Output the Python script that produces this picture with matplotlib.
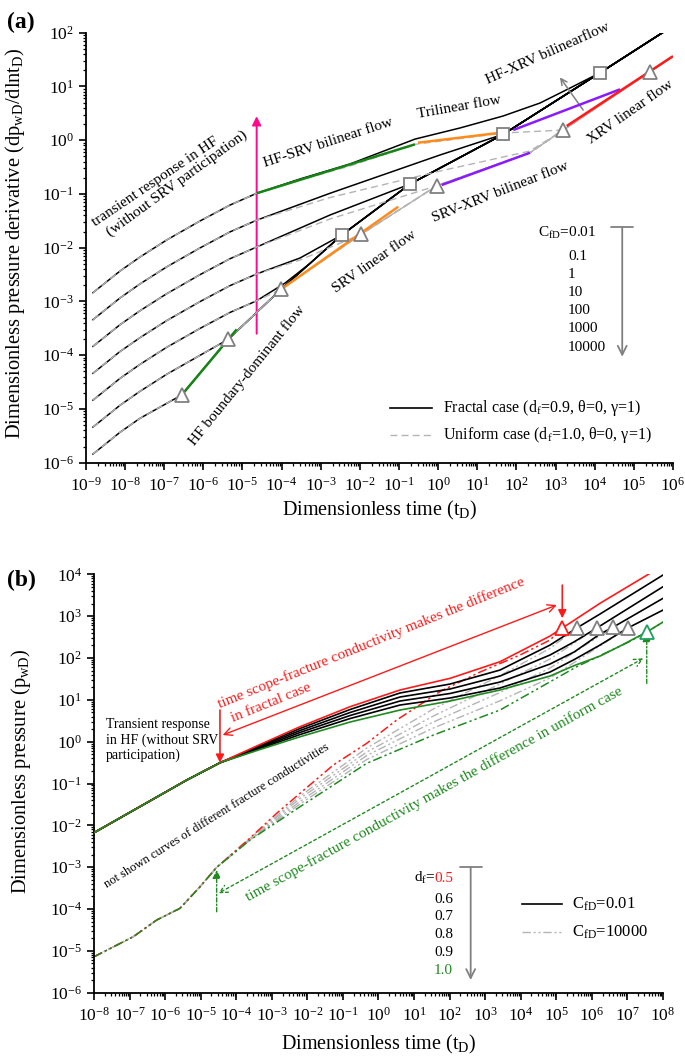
import matplotlib
matplotlib.use("Agg")
import matplotlib.pyplot as plt
import numpy as np
from matplotlib.ticker import FixedLocator, LogLocator, LogFormatterSciNotation, NullFormatter

plt.rcParams.update({
    "font.family": ["Liberation Serif", "DejaVu Serif"],
    "mathtext.fontset": "custom",
    "mathtext.rm": "Liberation Serif",
    "mathtext.it": "Liberation Serif:italic",
    "mathtext.bf": "Liberation Serif:bold",
    "axes.unicode_minus": False,
})

# ------------------------------------------------------------------
# Panel (a): pressure derivative, fractal (solid) vs uniform (dashed)
# CfD = 0.01, 0.1, 1, 10, 100, 1000, 10000  (top -> bottom)
# ------------------------------------------------------------------
a_early_t = [1.51e-9, 7.40e-9, 2.40e-8, 1.15e-7, 8.18e-7, 4.79e-6, 2.30e-5]
a_c1_early = [1.46e-3, 3.68e-3, 6.71e-3, 1.39e-2, 3.14e-2, 6.22e-2, 0.103]
a_c2_early = [4.59e-4, 1.16e-3, 2.12e-3, 4.39e-3, 9.91e-3, 1.97e-2, 3.25e-2]
a_c3_early = [1.46e-4, 3.69e-4, 6.73e-4, 1.39e-3, 3.15e-3, 6.24e-3, 1.03e-2]
a_c4_early = [4.61e-5, 1.17e-4, 2.12e-4, 4.40e-4, 9.93e-4, 1.97e-3, 3.25e-3]
a_c5_early = [1.46e-5, 3.70e-5, 6.75e-5, 1.40e-4, 3.15e-4, 6.25e-4, 1.03e-3]
a_c6_early = [4.61e-6, 1.17e-5, 2.13e-5, 4.41e-5, 9.95e-5]
a_c7_early = [1.45e-6, 3.68e-6, 6.70e-6]

# shared late path of the fractal curves (T1, T2, T3, S1, S2, S3, S4, end)
a_frac_path_t = [2.79e-7, 4.34e-6, 9.62e-5, 3.43e-3, 0.191, 46.2, 1.37e4, 5.57e5]
a_frac_path_y = [1.82e-5, 1.98e-4, 1.68e-3, 0.0172, 0.153, 1.29, 18.0, 101.7]

a_c1_mid_t = [2.94e-4, 5.58e-3, 0.256, 3.61, 45.4, 400, 2.34e3]
a_c1_mid_y = [0.190, 0.361, 1.05, 1.69, 2.82, 4.92, 9.35]
a_c2_mid_t = [1.72e-3, 1.11]
a_c2_mid_y = [0.103, 0.531]
a_c3_mid_t = [1.72e-3]
a_c3_mid_y = [0.0406]
a_c4_mid_t = [2.94e-4]
a_c4_mid_y = [6.43e-3]
a_c5_mid_t = [1.22e-4, 5.30e-4]
a_c5_mid_y = [2.20e-3, 5.10e-3]

# shared late path of the uniform curves (T1, T2, T3, T4, T5, -, T6, T7, end)
a_unif_path_t = [2.79e-7, 4.34e-6, 9.62e-5, 1.07e-2, 0.916, 222, 1.58e3, 2.59e5, 1e6]
a_unif_path_y = [1.82e-5, 1.98e-4, 1.68e-3, 0.0177, 0.142, 0.585, 1.55, 18.8, 36.6]

a_u1_mid_t = [2.94e-4, 5.58e-3, 0.256, 45.4]
a_u1_mid_y = [0.182, 0.331, 0.839, 1.36]
a_u2_mid_t = [1.72e-3, 1.11, 222]
a_u2_mid_y = [0.0859, 0.267, 0.630]
a_u3_mid_t = [1.72e-3]
a_u3_mid_y = [0.0342]
a_u4_mid_t = [2.94e-4]
a_u4_mid_y = [5.90e-3]

# flow-regime highlight segments
a_green_bd_t, a_green_bd_y = [2.28e-7, 7.10e-6], [1.52e-5, 3.03e-4]
a_green_hs_t, a_green_hs_y = [2.30e-5, 0.256], [0.103, 0.839]
a_orange_srv_t, a_orange_srv_y = [9.62e-5, 9.57e-2], [1.68e-3, 0.0579]
a_orange_tri_t, a_orange_tri_y = [0.305, 46.2], [0.899, 1.40]
a_purple_sx_t, a_purple_sx_y = [1.23, 222], [0.147, 0.585]
a_purple_hx_t, a_purple_hx_y = [83.2, 4.44e4], [1.55, 8.85]
a_red_x_t, a_red_x_y = [1.93e3, 1e6], [1.84, 36.6]

a_cfd_labels = ["0.1", "1", "10", "100", "1000", "10000"]

# ------------------------------------------------------------------
# Panel (b): pressure, df = 0.5 ... 1.0, CfD = 0.01 (solid) / 10000 (dash-dot)
# ------------------------------------------------------------------
b_solid_t = [1e-8, 4.05e-6, 3.49e-5, 4.66e-4, 6.21e-3, 0.158, 4.03, 103, 2.61e3, 6.65e4]
b_s05_y = [6.67e-3, 0.121, 0.314, 0.855, 2.28, 6.85, 17.2, 32.7, 81.5, 335]
b_s06_y = [6.67e-3, 0.121, 0.314, 0.809, 2.07, 5.87, 14.6, 23.9, 51.6, 204]
b_s07_y = [6.67e-3, 0.121, 0.314, 0.766, 1.85, 4.98, 11.7, 18.2, 37.1, 118]
b_s08_y = [6.67e-3, 0.121, 0.314, 0.724, 1.66, 4.22, 9.38, 14.2, 26.7, 71.8]
b_s09_y = [6.67e-3, 0.121, 0.314, 0.685, 1.48, 3.57, 7.52, 11.1, 19.2, 46.2]
b_s10_y = [6.67e-3, 0.121, 0.314, 0.650, 1.31, 2.95, 5.71, 9.38, 17.2, 37.1]
b_s05_tail_t, b_s05_tail_y = [1.48e5, 1.69e6, 4.33e7, 1e8], [521, 2030, 1.06e4, 1.58e4]
b_s06_tail_t, b_s06_tail_y = [3.75e5, 1.69e6, 1e8], [521, 1125, 9620]
b_s07_tail_t, b_s07_tail_y = [3.2e5, 1.37e6, 1e8], [245, 521, 5060]
b_s08_tail_t, b_s08_tail_y = [3.2e5, 1.69e6, 4.01e6, 1e8], [140, 374, 550, 2670]
b_s09_tail_t, b_s09_tail_y = [3.2e5, 1.69e6, 1.02e7, 1e8], [92, 204, 521, 1400]
b_s10_tail_t, b_s10_tail_y = [3.2e5, 1.69e6, 6.19e6, 3.49e7, 1e8], [66, 111, 193, 418, 724]

b_dd_early_t = [1e-8, 1.27e-7, 5.79e-7, 2.62e-6, 9.57e-6, 2.82e-5]
b_dd_early_y = [7.24e-6, 2.18e-5, 5.46e-5, 1.04e-4, 3.41e-4, 9.93e-4]
b_d05_t = [2.44e-4, 1.37e-3, 6.21e-3, 0.0537, 0.467, 3.26, 53.7, 716, 9550, 6.65e4, 1.48e5]
b_d05_y = [4.98e-3, 0.0194, 0.0583, 0.277, 0.914, 3.3, 15.8, 46.2, 118, 269, 521]
b_dmid_t = [2.44e-4, 6.21e-3, 0.467, 34.8, 2.61e3, 6.65e4]
b_d06_y = [4.84e-3, 0.0502, 0.705, 6.04, 38.0, 170]
b_d07_y = [4.71e-3, 0.0438, 0.566, 4.10, 24.0, 94.6]
b_d08_y = [4.58e-3, 0.0372, 0.467, 2.95, 15.0, 57.7]
b_d09_y = [4.47e-3, 0.0324, 0.375, 2.12, 9.5, 33.3]
b_d10_t = [2.44e-4, 6.21e-3, 0.467, 34.8, 2.61e3, 3.75e5, 1.18e7, 3.49e7, 1e8]
b_d10_y = [4.47e-3, 0.0279, 0.304, 1.44, 5.71, 61.9, 250, 418, 724]

# end-of-linear-flow markers, df = 0.5 ... 1.0
b_tri_t = [1.48e5, 3.75e5, 1.37e6, 4.01e6, 1.02e7, 3.49e7]
b_tri_y = [521, 521, 521, 550, 521, 418]
b_df_labels = ["0.5", "0.6", "0.7", "0.8", "0.9", "1.0"]

# ------------------------------------------------------------------
RED = "#ff1a1a"
GREEN = "#1f8a1f"
GREY = "#808080"
LIGHT = "#b4b4b4"


def log_axes(ax, xlo, xhi, ylo, yhi):
    ax.set_xscale("log")
    ax.set_yscale("log")
    ax.set_xlim(10.0 ** xlo, 10.0 ** xhi)
    ax.set_ylim(10.0 ** ylo, 10.0 ** yhi)
    for axis, lo, hi in [(ax.xaxis, xlo, xhi), (ax.yaxis, ylo, yhi)]:
        axis.set_major_locator(FixedLocator([10.0 ** k for k in range(lo, hi + 1)]))
        axis.set_major_formatter(LogFormatterSciNotation())
        axis.set_minor_locator(LogLocator(base=10, subs=np.arange(2, 10) * 1.0, numticks=400))
        axis.set_minor_formatter(NullFormatter())
    ax.spines["top"].set_visible(False)
    ax.spines["right"].set_visible(False)
    for s in ["left", "bottom"]:
        ax.spines[s].set_linewidth(1.3)
    ax.tick_params(which="major", direction="out", length=5, width=1.2, labelsize=12.5)
    ax.tick_params(axis="x", which="major", pad=5)
    ax.tick_params(which="minor", direction="out", length=2.5, width=0.9)


def tbar_arrow(ax, x, y_top, y_bot):
    ax.annotate("", xy=(x, y_bot), xytext=(x, y_top), xycoords="axes fraction",
                arrowprops=dict(arrowstyle="]->, widthA=0.5, lengthA=0", color=GREY,
                                lw=1.3, mutation_scale=16, shrinkA=0, shrinkB=0))


fig = plt.figure(figsize=(6.85, 10.63), dpi=100)
ax_a = fig.add_axes([0.1255, 0.5647, 0.8569, 0.4045])
ax_b = fig.add_axes([0.1372, 0.0661, 0.8307, 0.3936])

# ---------------- panel (a) ----------------
ax = ax_a
log_axes(ax, -9, 6, -6, 2)

frac_parts = [
    (a_c1_early, a_c1_mid_t, a_c1_mid_y, 6),
    (a_c2_early, a_c2_mid_t, a_c2_mid_y, 5),
    (a_c3_early, a_c3_mid_t, a_c3_mid_y, 4),
    (a_c4_early, a_c4_mid_t, a_c4_mid_y, 3),
    (a_c5_early, a_c5_mid_t, a_c5_mid_y, 3),
    (a_c6_early, [], [], 1),
    (a_c7_early, [], [], 0),
]
for early, mt, my, k in frac_parts:
    t = a_early_t[:len(early)] + mt + a_frac_path_t[k:]
    y = early + my + a_frac_path_y[k:]
    ax.plot(t, y, color="black", lw=1.1, zorder=3)

unif_parts = [
    (a_c1_early, a_u1_mid_t, a_u1_mid_y, 6),
    (a_c2_early, a_u2_mid_t, a_u2_mid_y, 6),
    (a_c3_early, a_u3_mid_t, a_u3_mid_y, 4),
    (a_c4_early, a_u4_mid_t, a_u4_mid_y, 3),
    (a_c5_early, [], [], 2),
    (a_c6_early, [], [], 1),
    (a_c7_early, [], [], 0),
]
for early, mt, my, k in unif_parts:
    t = a_early_t[:len(early)] + mt + a_unif_path_t[k:]
    y = early + my + a_unif_path_y[k:]
    ax.plot(t, y, color=LIGHT, lw=1.0, dashes=(5, 3), zorder=4)

segs = [
    (a_green_bd_t, a_green_bd_y, "#168516"),
    (a_green_hs_t, a_green_hs_y, "#168516"),
    (a_orange_srv_t, a_orange_srv_y, "#ff8c1a"),
    (a_orange_tri_t, a_orange_tri_y, "#ff8c1a"),
    (a_purple_sx_t, a_purple_sx_y, "#8a1aff"),
    (a_purple_hx_t, a_purple_hx_y, "#8a1aff"),
    (a_red_x_t, a_red_x_y, RED),
]
for t, y, c in segs:
    ax.plot(t, y, color=c, lw=1.8, zorder=5, solid_capstyle="butt")

tri_idx = [0, 1, 2, 3, 4, 6, 7]
ax.plot([a_unif_path_t[i] for i in tri_idx], [a_unif_path_y[i] for i in tri_idx],
        ls="none", marker="^", ms=10, mfc="white", mec=GREY, mew=1.3, zorder=6)
ax.plot(a_frac_path_t[3:7], a_frac_path_y[3:7], ls="none", marker="s", ms=8,
        mfc="white", mec=GREY, mew=1.3, zorder=6)

# magenta arrow
ax.annotate("", xy=(0.2908, 0.806), xytext=(0.2908, 0.300), xycoords="axes fraction",
            arrowprops=dict(arrowstyle="-|>", color="#ff0a8c", lw=1.4, mutation_scale=13,
                            shrinkA=0, shrinkB=0))
# small grey arrow near HF-XRV
ax.annotate("", xy=(0.8075, 0.8963), xytext=(0.847, 0.8202), xycoords="axes fraction",
            arrowprops=dict(arrowstyle="->", color=GREY, lw=1.1, mutation_scale=11,
                            shrinkA=0, shrinkB=0))
tbar_arrow(ax, 0.9136, 0.548, 0.2465)

txt = dict(transform=ax.transAxes, ha="center", va="center", rotation_mode="anchor", fontsize=11)
ax.text(0.1187, 0.6535, "transient response in HF", rotation=34, **txt)
ax.text(0.1545, 0.6498, "(without SRV participation)", rotation=36, **txt)
ax.text(0.412, 0.7435, "HF-SRV bilinear flow", rotation=18, **txt)
ax.text(0.6354, 0.8265, "Trilinear flow", rotation=10, **txt)
ax.text(0.786, 0.9521, "HF-XRV bilinearflow", rotation=24, **txt)
ax.text(0.928, 0.8163, "XRV linear flow", rotation=35, **txt)
ax.text(0.7065, 0.6302, "SRV-XRV bilinear flow", rotation=21.5, **txt)
ax.text(0.4906, 0.4674, "SRV linear flow", rotation=35, **txt)
ax.text(0.2748, 0.2023, "HF boundary-dominant flow", rotation=51, **txt)

ax.text(0.770, 0.5335, r"C$_{\mathrm{fD}}$=0.01", transform=ax.transAxes, ha="left",
        va="center", fontsize=11)
for lab, fy in zip(a_cfd_labels, [0.4807, 0.4381, 0.397, 0.3551, 0.311, 0.2691]):
    ax.text(0.821, fy, lab, transform=ax.transAxes, ha="left", va="center", fontsize=11)

# legend
ax.plot([0.518, 0.589], [0.127, 0.127], transform=ax.transAxes, color="black", lw=1.2)
ax.plot([0.518, 0.589], [0.064, 0.064], transform=ax.transAxes, color=LIGHT, lw=1.0,
        dashes=(5, 3))
ax.text(0.608, 0.127, r"Fractal case (d$_{\mathrm{f}}$=0.9, θ=0, γ=1)", transform=ax.transAxes,
        ha="left", va="center", fontsize=11.5)
ax.text(0.608, 0.064, r"Uniform case (d$_{\mathrm{f}}$=1.0, θ=0, γ=1)", transform=ax.transAxes,
        ha="left", va="center", fontsize=11.5)

ax.set_xlabel(r"Dimensionless time (t$_{\mathrm{D}}$)", fontsize=14.5, labelpad=3)
ax.set_ylabel(r"Dimensionless pressure derivative (dp$_{\mathrm{wD}}$/dlnt$_{\mathrm{D}}$)",
              fontsize=14.8)
ax.yaxis.set_label_coords(-0.1005, 0.51)

# ---------------- panel (b) ----------------
ax = ax_b
log_axes(ax, -8, 8, -6, 4)

dd = (0, (6, 2, 1.5, 2, 1.5, 2))
for ym, tend, yend in zip([b_d06_y, b_d07_y, b_d08_y, b_d09_y], b_tri_t[1:5], b_tri_y[1:5]):
    ax.plot(b_dd_early_t + b_dmid_t + [tend], b_dd_early_y + ym + [yend],
            color=LIGHT, lw=1.0, ls=dd, zorder=2)
ax.plot(b_dd_early_t + b_d05_t, b_dd_early_y + b_d05_y, color=RED, lw=1.1, ls=dd, zorder=2)
ax.plot(b_dd_early_t + b_d10_t, b_dd_early_y + b_d10_y, color=GREEN, lw=1.1, ls=dd, zorder=2)

solid = [
    (b_s06_y, b_s06_tail_t, b_s06_tail_y, "black"),
    (b_s07_y, b_s07_tail_t, b_s07_tail_y, "black"),
    (b_s08_y, b_s08_tail_t, b_s08_tail_y, "black"),
    (b_s09_y, b_s09_tail_t, b_s09_tail_y, "black"),
    (b_s05_y, b_s05_tail_t, b_s05_tail_y, RED),
    (b_s10_y, b_s10_tail_t, b_s10_tail_y, GREEN),
]
for y, tt, ty, c in solid:
    ax.plot(b_solid_t + tt, y + ty, color=c, lw=1.2, zorder=3)

tri_cols = [RED, GREY, GREY, GREY, GREY, "#20a060"]
for t, y, c in zip(b_tri_t, b_tri_y, tri_cols):
    ax.plot([t], [y], ls="none", marker="^", ms=10, mfc="white", mec=c, mew=1.3, zorder=5)

# red annotations
ax.annotate("", xy=(0.2262, 0.6159), xytext=(0.8132, 0.9266), xycoords="axes fraction",
            arrowprops=dict(arrowstyle="<->", color=RED, lw=1.0, mutation_scale=14,
                            shrinkA=0, shrinkB=0))
ax.annotate("", xy=(0.2214, 0.5497), xytext=(0.2214, 0.6757), xycoords="axes fraction",
            arrowprops=dict(arrowstyle="-|>", color=RED, lw=1.2, mutation_scale=12,
                            shrinkA=0, shrinkB=0))
ax.annotate("", xy=(0.823, 0.8949), xytext=(0.823, 0.9742), xycoords="axes fraction",
            arrowprops=dict(arrowstyle="-|>", color=RED, lw=1.2, mutation_scale=12,
                            shrinkA=0, shrinkB=0))
# green annotations
ax.annotate("", xy=(0.2185, 0.2376), xytext=(0.9654, 0.7992), xycoords="axes fraction",
            arrowprops=dict(arrowstyle="<->", color=GREEN, lw=1.0, ls=(0, (2, 2)),
                            mutation_scale=14, shrinkA=0, shrinkB=0))
ax.annotate("", xy=(0.2156, 0.2933), xytext=(0.2156, 0.1936), xycoords="axes fraction",
            arrowprops=dict(arrowstyle="-|>", color=GREEN, lw=1.0, ls=(0, (3, 1.5, 1, 1.5)),
                            mutation_scale=12, shrinkA=0, shrinkB=0))
ax.annotate("", xy=(0.9714, 0.859), xytext=(0.9714, 0.7395), xycoords="axes fraction",
            arrowprops=dict(arrowstyle="-|>", color=GREEN, lw=1.0, ls=(0, (3, 1.5, 1, 1.5)),
                            mutation_scale=12, shrinkA=0, shrinkB=0))
tbar_arrow(ax, 0.662, 0.2997, 0.0304)

txt = dict(transform=ax.transAxes, ha="center", va="center", rotation_mode="anchor")
ax.text(0.4865, 0.837, "time scope-fracture conductivity makes the difference",
        rotation=22, color=RED, fontsize=11, **txt)
ax.text(0.3107, 0.6917, "in fractal case", rotation=22, color=RED, fontsize=11, **txt)
ax.text(0.5979, 0.4744, "time scope-fracture conductivity makes the difference in uniform case",
        rotation=29, color=GREEN, fontsize=11, **txt)
ax.text(0.2162, 0.4228, "not shown curves of different fracture conductivities",
        rotation=32, fontsize=9, **txt)
ax.text(0.1125, 0.642, "Transient response", fontsize=10, **txt)
ax.text(0.0211, 0.604, "in HF (without SRV", transform=ax.transAxes, ha="left", va="center",
        fontsize=10)
ax.text(0.0211, 0.568, "participation)", transform=ax.transAxes, ha="left", va="center",
        fontsize=10)

df_y = [0.2734, 0.224, 0.1826, 0.1403, 0.0973, 0.0543]
df_cols = [RED, "black", "black", "black", "black", GREEN]
ax.text(0.601, df_y[0], r"d$_{\mathrm{f}}$=", transform=ax.transAxes, ha="right",
        va="center", fontsize=11)
for lab, fy, c in zip(b_df_labels, df_y, df_cols):
    ax.text(0.631, fy, lab, transform=ax.transAxes, ha="right", va="center", fontsize=11,
            color=c)

ax.plot([0.7517, 0.822], [0.2113, 0.2113], transform=ax.transAxes, color="black", lw=1.2)
ax.plot([0.7517, 0.822], [0.1444, 0.1444], transform=ax.transAxes, color=LIGHT, lw=1.0, ls=dd)
ax.text(0.8395, 0.2113, r"C$_{\mathrm{fD}}$=0.01", transform=ax.transAxes, ha="left",
        va="center", fontsize=12)
ax.text(0.8395, 0.1444, r"C$_{\mathrm{fD}}$=10000", transform=ax.transAxes, ha="left",
        va="center", fontsize=12)

ax.set_xlabel(r"Dimensionless time (t$_{\mathrm{D}}$)", fontsize=14.5, labelpad=6)
ax.set_ylabel(r"Dimensionless pressure (p$_{\mathrm{wD}}$)", fontsize=14.8)
ax.yaxis.set_label_coords(-0.107, 0.53)

fig.text(0.0307, 0.979, "(a)", fontsize=17, fontweight="bold", ha="center", va="center")
fig.text(0.032, 0.4544, "(b)", fontsize=17, fontweight="bold", ha="center", va="center")

fig.savefig("out.png", dpi=100)
plt.close(fig)
